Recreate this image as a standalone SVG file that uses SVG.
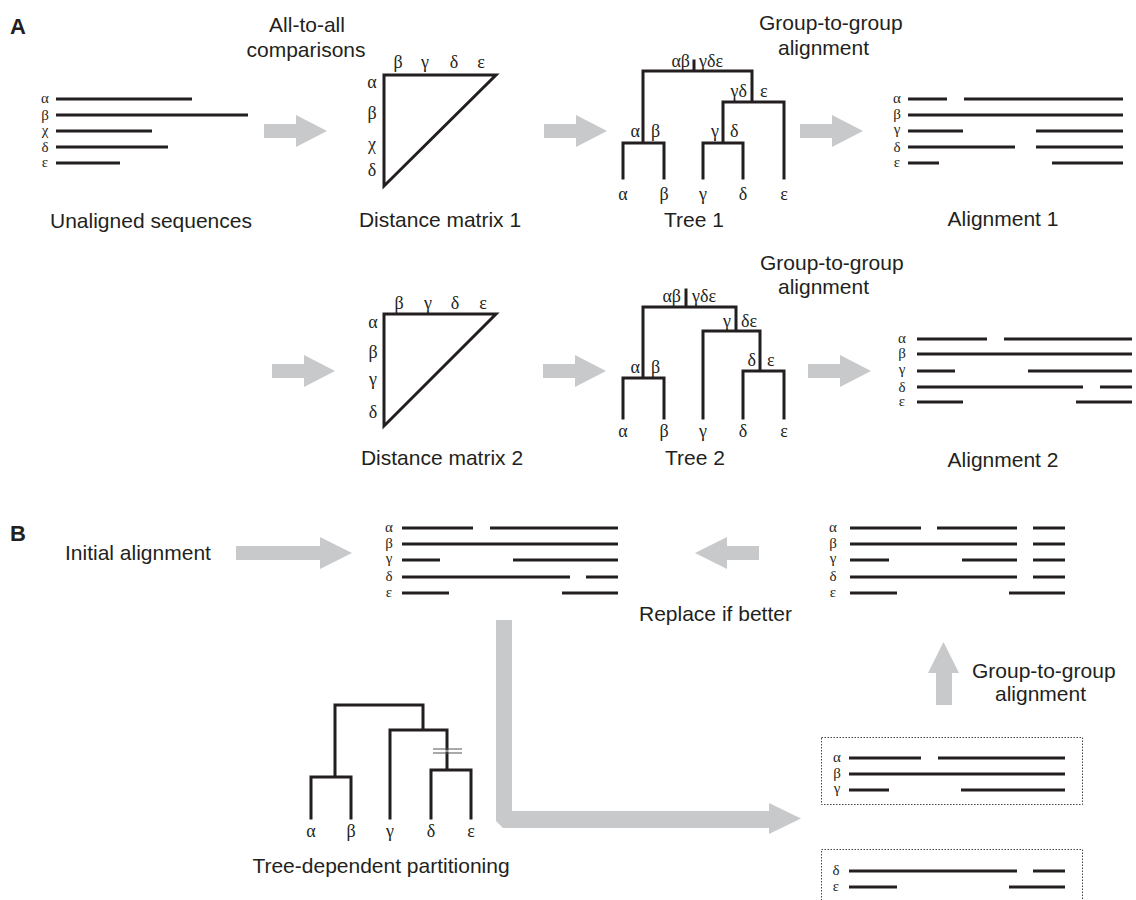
<svg xmlns="http://www.w3.org/2000/svg" width="1136" height="900" viewBox="0 0 1136 900">
<style>
.t{font-family:"Liberation Sans",Arial,sans-serif;font-size:21px;fill:#231f20}
.h{font-family:"Liberation Sans",Arial,sans-serif;font-size:22px;font-weight:bold;fill:#231f20}
.gm{font-family:"Liberation Serif","DejaVu Serif","Times New Roman",serif;font-size:18px;fill:#231f20;text-anchor:middle}
.gl{font-family:"Liberation Serif","DejaVu Serif","Times New Roman",serif;font-size:15px;fill:#231f20;text-anchor:middle}
.ln{stroke:#231f20;stroke-width:3;fill:none}
.tr{stroke:#231f20;stroke-width:3;fill:none;stroke-linejoin:miter;stroke-linecap:square}
.ar{fill:#c8c9cb}
.box{fill:none;stroke:#444;stroke-width:1;stroke-dasharray:1.5 1.5}
.brk{stroke:#555;stroke-width:1.2}
.c{text-anchor:middle}
.s{text-anchor:start}
.e{text-anchor:end}
</style>
<defs>
<path id="rarrow" d="M0,-7 H32 V-16 L63,0 L32,16 V7 H0 Z"/>
</defs>

<text class="h" x="10" y="34">A</text>
<text class="h" x="10" y="541">B</text>

<g id="connectors">
<use href="#rarrow" class="ar" x="264" y="131"/>
<use href="#rarrow" class="ar" x="544" y="131"/>
<use href="#rarrow" class="ar" x="800" y="131"/>
<use href="#rarrow" class="ar" x="272" y="371"/>
<use href="#rarrow" class="ar" x="543" y="371"/>
<use href="#rarrow" class="ar" x="808" y="371"/>
<path class="ar" d="M236,546 H320 V537 L352,553 L320,569 V560 H236 Z"/>
<path class="ar" d="M759,546 H727 V537 L695,553 L727,569 V560 H759 Z"/>
<path class="ar" d="M936,705 V673 H928 L943.5,642 L959,673 H952 V705 Z"/>
<path class="ar" d="M496,620 H512 V811 H769 V803 L801,818.5 L769,834 V828 H503 L496,821 Z"/>
<text class="t c" x="307" y="32">All-to-all</text>
<text class="t c" x="306" y="57">comparisons</text>
<text class="t" x="759" y="30">Group-to-group</text>
<text class="t" x="778" y="55">alignment</text>
<text class="t" x="760" y="270">Group-to-group</text>
<text class="t" x="778" y="294">alignment</text>
<text class="t" x="639" y="621">Replace if better</text>
<text class="t" x="972" y="678">Group-to-group</text>
<text class="t" x="995" y="701">alignment</text>
</g>

<g id="unaligned">
<path class="ln" d="M56,99 H192 M56,115 H248 M56,131 H152 M56,147 H168 M56,163 H120"/>
<text class="gl" x="45" y="103">α</text>
<text class="gl" x="45" y="120">β</text>
<text class="gl" x="45" y="135">χ</text>
<text class="gl" x="45" y="152">δ</text>
<text class="gl" x="45" y="167">ε</text>
<text class="t c" x="151" y="228">Unaligned sequences</text>
</g>

<g id="matrix1">
<path class="tr" d="M496,75 H384 V186 Z"/>
<text class="gm" x="398" y="68">β</text>
<text class="gm" x="425" y="68">γ</text>
<text class="gm" x="454" y="68">δ</text>
<text class="gm" x="481" y="68">ε</text>
<text class="gm" x="372" y="88">α</text>
<text class="gm" x="372" y="119">β</text>
<text class="gm" x="372" y="150">χ</text>
<text class="gm" x="372" y="176">δ</text>
<text class="t c" x="440" y="227">Distance matrix 1</text>
</g>

<g id="tree1">
<path class="tr" d="M694,61 V71 M643,143 V71 H752 V102 M623,178 V143 H664 V178 M723,143 V102 H784 V178 M703,178 V143 H743 V178"/>
<text class="gm e" x="690" y="67">αβ</text>
<text class="gm s" x="699" y="67">γδε</text>
<text class="gm e" x="747" y="97">γδ</text>
<text class="gm s" x="760" y="97">ε</text>
<text class="gm e" x="640" y="137">α</text>
<text class="gm s" x="651" y="137">β</text>
<text class="gm e" x="719" y="137">γ</text>
<text class="gm s" x="730" y="137">δ</text>
<text class="gm" x="623" y="200">α</text>
<text class="gm" x="664" y="200">β</text>
<text class="gm" x="703" y="200">γ</text>
<text class="gm" x="743" y="200">δ</text>
<text class="gm" x="784" y="200">ε</text>
<text class="t c" x="694" y="227">Tree 1</text>
</g>

<g id="alignment1">
<path class="ln" d="M908,99 H947 M964,99 H1123 M908,115 H1123 M908,131 H963 M1036,131 H1123 M908,147 H1015 M1036,147 H1123 M908,163 H939 M1052,163 H1123"/>
<text class="gl" x="897" y="103">α</text>
<text class="gl" x="897" y="119">β</text>
<text class="gl" x="897" y="134">γ</text>
<text class="gl" x="897" y="152">δ</text>
<text class="gl" x="897" y="167">ε</text>
<text class="t c" x="1003" y="226">Alignment 1</text>
</g>

<g id="matrix2">
<path class="tr" d="M496,314 H384 V426 Z"/>
<text class="gm" x="399" y="309">β</text>
<text class="gm" x="428" y="309">γ</text>
<text class="gm" x="455" y="309">δ</text>
<text class="gm" x="483" y="309">ε</text>
<text class="gm" x="373" y="328">α</text>
<text class="gm" x="373" y="358">β</text>
<text class="gm" x="373" y="385">γ</text>
<text class="gm" x="373" y="418">δ</text>
<text class="t c" x="442" y="465">Distance matrix 2</text>
</g>

<g id="tree2">
<path class="tr" d="M686,290 V307 M643,378 V307 H736 V331 M623,418 V378 H664 V418 M703,418 V331 H760 V371 M743,418 V371 H784 V418"/>
<text class="gm e" x="681" y="302">αβ</text>
<text class="gm s" x="692" y="302">γδε</text>
<text class="gm e" x="731" y="327">γ</text>
<text class="gm s" x="741" y="327">δε</text>
<text class="gm e" x="756" y="366">δ</text>
<text class="gm s" x="767" y="366">ε</text>
<text class="gm e" x="640" y="373">α</text>
<text class="gm s" x="651" y="373">β</text>
<text class="gm" x="623" y="437">α</text>
<text class="gm" x="664" y="437">β</text>
<text class="gm" x="703" y="437">γ</text>
<text class="gm" x="743" y="437">δ</text>
<text class="gm" x="784" y="437">ε</text>
<text class="t c" x="695" y="465">Tree 2</text>
</g>

<g id="alignment2">
<path class="ln" d="M917,339 H987 M1004,339 H1132 M917,354 H1132 M917,371 H955 M1028,371 H1132 M917,387 H1083 M1100,387 H1132 M917,402 H963 M1076,402 H1132"/>
<text class="gl" x="902" y="343">α</text>
<text class="gl" x="902" y="358">β</text>
<text class="gl" x="902" y="374">γ</text>
<text class="gl" x="902" y="392">δ</text>
<text class="gl" x="902" y="406">ε</text>
<text class="t c" x="1003" y="467">Alignment 2</text>
</g>

<g id="initial-label">
<text class="t" x="65" y="560">Initial alignment</text>
</g>

<g id="initial-alignment">
<path class="ln" d="M402,528 H473 M490,528 H618 M402,544 H618 M402,560 H440 M513,560 H618 M402,577 H570 M586,577 H618 M402,593 H449 M562,593 H618"/>
<text class="gl" x="389" y="532">α</text>
<text class="gl" x="389" y="548">β</text>
<text class="gl" x="389" y="563">γ</text>
<text class="gl" x="389" y="581">δ</text>
<text class="gl" x="389" y="597">ε</text>
</g>

<g id="refined-alignment">
<path class="ln" d="M850,528 H921 M937,528 H1017 M1033,528 H1065 M850,544 H1017 M1033,544 H1065 M850,560 H889 M962,560 H1017 M1033,560 H1065 M850,577 H1017 M1033,577 H1065 M850,593 H897 M1009,593 H1065"/>
<text class="gl" x="833" y="532">α</text>
<text class="gl" x="833" y="548">β</text>
<text class="gl" x="833" y="563">γ</text>
<text class="gl" x="833" y="581">δ</text>
<text class="gl" x="833" y="597">ε</text>
</g>

<g id="partition-tree">
<path class="tr" d="M335,777 V705 H423 V730 M390,818 V730 H447 V749 M447,753 V770 M311,818 V777 H351 V818 M431,818 V770 H471 V818"/>
<path class="brk" d="M433,749 H462 M433,753 H462"/>
<text class="gm" x="311" y="837">α</text>
<text class="gm" x="351" y="837">β</text>
<text class="gm" x="390" y="837">γ</text>
<text class="gm" x="431" y="837">δ</text>
<text class="gm" x="471" y="837">ε</text>
<text class="t c" x="381" y="873">Tree-dependent partitioning</text>
</g>

<g id="group1">
<rect class="box" x="821.5" y="737.5" width="261" height="67"/>
<path class="ln" d="M849,758 H921 M938,758 H1065 M849,774 H1065 M849,790 H889 M961,790 H1065"/>
<text class="gl" x="837" y="762">α</text>
<text class="gl" x="837" y="778">β</text>
<text class="gl" x="837" y="793">γ</text>
</g>

<g id="group2">
<rect class="box" x="821.5" y="849.5" width="261" height="60"/>
<path class="ln" d="M849,871 H1017 M1033,871 H1065 M849,887 H897 M1009,887 H1065"/>
<text class="gl" x="836" y="875">δ</text>
<text class="gl" x="836" y="891">ε</text>
</g>
</svg>
